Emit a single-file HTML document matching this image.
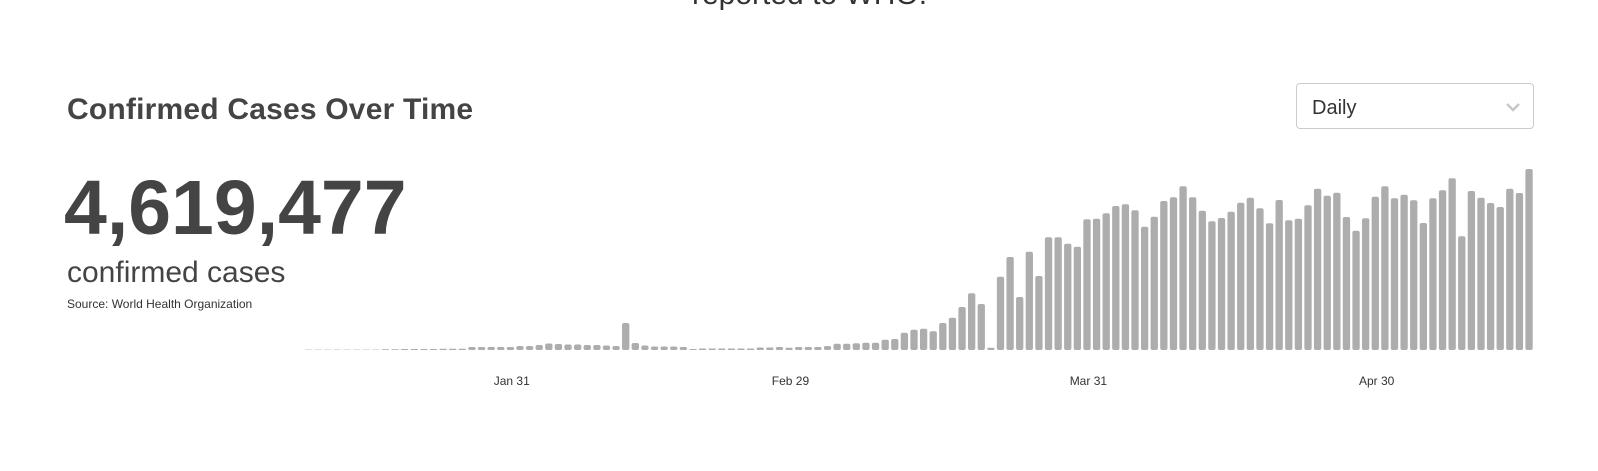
<!DOCTYPE html>
<html><head><meta charset="utf-8">
<style>
html,body{margin:0;padding:0;background:#fff;width:1598px;height:471px;overflow:hidden;position:relative;font-family:"Liberation Sans",sans-serif;color:#444}
.abs{position:absolute;white-space:nowrap}
</style></head><body>
<div class="abs" style="left:692px;top:-22px;font-size:30px;color:#333;font-weight:300;">reported to WHO.</div>
<div class="abs" style="left:67px;top:93px;font-size:30px;letter-spacing:0.2px;font-weight:bold;color:#444;">Confirmed Cases Over Time</div>
<div class="abs" style="left:64px;top:168px;font-size:77px;line-height:80px;font-weight:bold;color:#444;">4,619,477</div>
<div class="abs" style="left:67px;top:256px;font-size:30px;color:#444;">confirmed cases</div>
<div class="abs" style="left:67px;top:297px;font-size:12px;color:#333;">Source: World Health Organization</div>
<div class="abs" style="left:1296px;top:83px;width:238px;height:46px;border:1px solid #ccc;border-radius:4px;box-sizing:border-box;">
  <span style="position:absolute;left:15px;top:13px;font-size:20px;color:#333;">Daily</span>
  <svg style="position:absolute;left:208px;top:18px" width="16" height="10"><polyline points="2,2 8,8 14,2" fill="none" stroke="#c8c8c8" stroke-width="2.5"/></svg>
</div>
<svg id="chart" style="position:absolute;left:0;top:0" width="1598" height="471"></svg>
<script>
const startDate = [2020, 0, 11];
const values = [0.4,0.4,0.4,0.4,0.4,0.4,0.4,0.4,0.7,0.7,1,1,1,1,1.3,1.3,1.3,3,3,3,3,3,4,4,5,6.5,6,5.5,5.5,5,5,4.5,4,27,7,4.5,3.5,3.5,3.5,3,1,1.5,1.5,1.5,1.5,1.5,1.5,2.5,2.5,3,
2.3,3,3,3,4,6.3,6.3,6.7,7.3,7.3,10.3,11,17.3,20.3,21.3,18.7,27,32.3,43,56.7,46,2.3,73.3,93,53,98.3,74,112.7,112.7,106.3,103.3,130.7,131.3,136.7,144,145.7,139.7,123.3,
133.3,149,152.7,163.7,152.7,139.3,128.7,132,138.3,147.3,152.3,141.7,126.7,150,129.7,131.3,144.7,161.3,154.3,157.3,133,119.3,131.7,153.3,163.7,151.7,155.3,149.7,127,151.7,159.7,171.7,113.7,159,152.3,147,143,161.3,157,181];
const tickLabels = ["Jan 31","Feb 29","Mar 31","Apr 30"];
const tickIndex = [20,49,80,110];
const yMax = 200;

const svg = document.getElementById('chart');
const NS = 'http://www.w3.org/2000/svg';
const step = 9.61, spikeX = 625.7, x0 = spikeX - 33*step, baseY = 350, plotH = 200, bw = 7.3;
function xScale(i){ return x0 + i*step; }
function yScale(v){ return baseY - v/yMax*plotH; }
values.forEach((v,i)=>{
  const y = yScale(v);
  const h = baseY - y;
  const r = document.createElementNS(NS,'rect');
  r.setAttribute('x', xScale(i)-bw/2);
  r.setAttribute('y', y);
  r.setAttribute('width', bw);
  r.setAttribute('height', Math.max(h,0.3));
  r.setAttribute('rx', Math.min(2, h/2));
  r.setAttribute('fill', '#adadad');
  
  
  svg.appendChild(r);
});
tickLabels.forEach((t,k)=>{
  const tx = document.createElementNS(NS,'text');
  tx.setAttribute('x', xScale(tickIndex[k])+11);
  tx.setAttribute('y', 385);
  tx.setAttribute('text-anchor','middle');
  tx.setAttribute('font-size','12');
  tx.setAttribute('fill','#333');
  tx.setAttribute('font-family','Liberation Sans, sans-serif');
  tx.textContent = t;
  
  
  svg.appendChild(tx);
});
</script>
</body></html>
